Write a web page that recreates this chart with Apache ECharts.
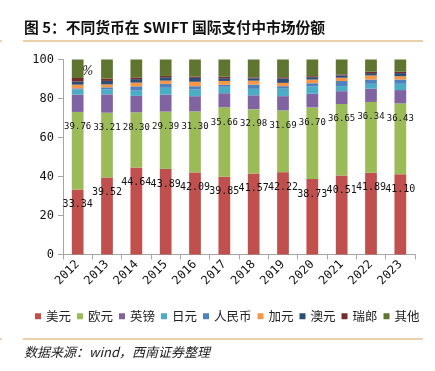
<!DOCTYPE html>
<html>
<head>
<meta charset="utf-8">
<script src="https://cdn.jsdelivr.net/npm/echarts@6/dist/echarts.min.js"></script>
<style>html,body{margin:0;padding:0;background:#fff}#c{width:435px;height:371px}</style>
</head>
<body>
<div id="c"></div>
<script>
var years = ['2012','2013','2014','2015','2016','2017','2018','2019','2020','2021','2022','2023'];
var seriesNames = ['美元','欧元','英镑','日元','人民币','加元','澳元','瑞郎','其他'];
var usd = [33.34,39.52,44.64,43.89,42.09,39.85,41.57,42.22,38.73,40.51,41.89,41.10];
var eur = [39.76,33.21,28.30,29.39,31.30,35.66,32.98,31.69,36.70,36.65,36.34,36.43];
var gbp = [8.9,9.4,8.4,8.7,7.8,7.2,7.1,7.3,7.0,6.6,6.8,6.8];
var jpy = [2.6,2.6,2.7,3.5,3.4,3.3,3.3,3.8,3.8,2.6,2.5,3.2];
var cny = [0.6,1.0,2.2,2.0,1.7,1.0,2.2,1.3,1.6,2.6,2.2,2.2];
var cad = [1.9,1.5,1.9,1.7,2.3,2.0,2.0,1.7,1.9,1.7,2.1,1.7];
var aud = [1.7,1.8,1.8,1.7,2.0,1.4,1.2,2.3,1.2,1.2,1.2,1.6];
var chf = [1.7,1.2,0.9,0.7,0.7,0.8,0.5,0.6,0.5,0.5,0.7,0.7];
var other = [9.5,9.77,9.16,8.42,8.71,8.79,9.15,9.09,8.57,7.64,6.27,6.27];
var yTicks = [0,20,40,60,80,100];

var colors = ['#C0504D','#9BBB59','#8064A2','#4BACC6','#4F81BD','#F79646','#2C4D75','#772C2A','#5F7530'];
var dataSets = [usd,eur,gbp,jpy,cny,cad,aud,chf,other];
var labelSizes = [10, 9];

var chart = echarts.init(document.getElementById('c'));
var series = seriesNames.map(function(n,i){
  var s = {
    name: n, type: 'bar', stack: 'total', data: dataSets[i],
    barWidth: '40%',
    itemStyle: {color: colors[i]},
    emphasis: {disabled: true}
  };
  if (i < 2) {
    s.label = {
      show: true, position: ['50%', 15], align: 'center', verticalAlign: 'middle',
      color: '#111', fontFamily: 'DejaVu Sans Mono', fontSize: labelSizes[i],
      formatter: function(p){ return p.value.toFixed(2); }
    };
  }
  return s;
});

chart.setOption({
  animation: false,
  color: colors,
  title: {
    text: '图 5：不同货币在 SWIFT 国际支付中市场份额',
    left: 19, top: 15,
    textStyle: {fontFamily: 'Noto Sans CJK SC', fontSize: 14.8, fontWeight: 'bold', color: '#111'}
  },
  grid: {left: 63, right: 20, top: 59.5, bottom: 116.5},
  xAxis: {
    type: 'category', data: years, boundaryGap: true,
    axisLine: {lineStyle: {color: '#A6A6A6', width: 1}},
    axisTick: {show: true, length: 5, lineStyle: {color: '#A6A6A6'}},
    axisLabel: {rotate: 45, margin: 8, color: '#111', fontFamily: 'DejaVu Sans Mono', fontSize: 12}
  },
  yAxis: {
    type: 'value', min: yTicks[0], max: yTicks[yTicks.length-1], interval: 20,
    splitLine: {show: false},
    axisLine: {show: true, lineStyle: {color: '#A6A6A6', width: 1}},
    axisTick: {show: true, length: 5, lineStyle: {color: '#A6A6A6'}},
    axisLabel: {margin: 9, color: '#111', fontFamily: 'DejaVu Sans Mono', fontSize: 12}
  },
  legend: {
    data: seriesNames, left: 30, top: 305,
    icon: 'rect', itemWidth: 6, itemHeight: 6, itemGap: 6,
    textStyle: {fontFamily: 'Noto Sans CJK SC', fontSize: 12.5, color: '#222'}
  },
  graphic: [
    {type: 'line', shape: {x1: 23, y1: 41, x2: 423, y2: 41}, style: {stroke: '#D9A25A', lineWidth: 1.2}},
    {type: 'line', shape: {x1: 0, y1: 41, x2: 2, y2: 41}, style: {stroke: '#D9A25A', lineWidth: 1.2}},
    {type: 'line', shape: {x1: 23, y1: 339, x2: 423, y2: 339}, style: {stroke: '#D9A25A', lineWidth: 1.2}},
    {type: 'line', shape: {x1: 0, y1: 339, x2: 2, y2: 339}, style: {stroke: '#D9A25A', lineWidth: 1.2}},
    {type: 'text', left: 82, top: 66, style: {text: '%', fill: '#222', font: 'italic 12px "DejaVu Serif"'}},
    {type: 'text', left: 24, top: 346, style: {text: '数据来源：wind，西南证券整理', fill: '#222', font: 'italic 13px "Noto Sans CJK SC"'}}
  ],
  series: series
});
</script>
</body>
</html>
